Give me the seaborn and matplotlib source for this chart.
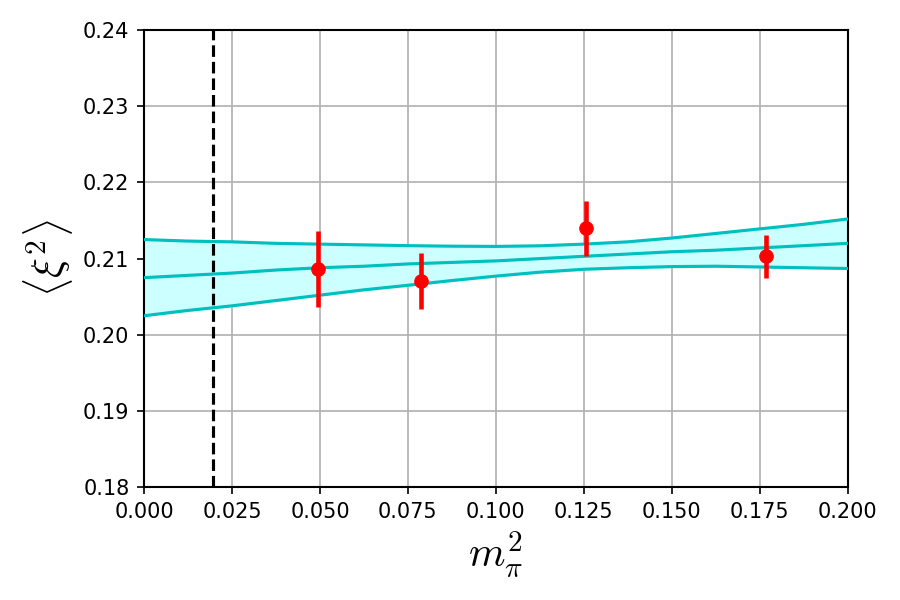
import matplotlib
matplotlib.use("Agg")
import matplotlib.pyplot as plt
import seaborn as sns
import numpy as np
import pandas as pd

# data points
mpi2 = [0.0494, 0.0787, 0.1257, 0.1767]
xi2 = [0.2086, 0.2071, 0.2140, 0.2103]
xi2_err = [0.0050, 0.0037, 0.0036, 0.0028]

# fit band
band_x = [0.0, 0.0125, 0.025, 0.0375, 0.05, 0.0625, 0.075, 0.0875, 0.1, 0.1125,
          0.125, 0.1375, 0.15, 0.1625, 0.175, 0.1875, 0.2]
band_upper = [0.2125, 0.2123, 0.2122, 0.2120, 0.2119, 0.2118, 0.2117, 0.21163, 0.2116, 0.21168,
              0.2119, 0.2122, 0.2127, 0.2133, 0.2139, 0.2145, 0.2152]
band_central = [0.2075, 0.2078, 0.2081, 0.2085, 0.2088, 0.2090, 0.2093, 0.2095, 0.2097, 0.2100,
                0.2103, 0.2106, 0.2109, 0.2111, 0.2114, 0.2117, 0.2120]
band_lower = [0.2025, 0.2032, 0.2038, 0.2045, 0.2052, 0.2059, 0.2065, 0.20712, 0.2077, 0.20822,
              0.2086, 0.2088, 0.20895, 0.2090, 0.2089, 0.2088, 0.2087]

phys_mpi2 = 0.0195

sns.set_style("ticks")
plt.rcParams['font.family'] = ['DejaVu Sans']
plt.rcParams['mathtext.fontset'] = 'cm'

fig = plt.figure(figsize=(6, 4), dpi=150)
ax = fig.add_axes([0.16, 0.188, 0.782, 0.762])

band = pd.DataFrame({"x": band_x, "upper": band_upper, "central": band_central, "lower": band_lower})
ax.fill_between(band["x"], band["lower"], band["upper"], color="#ccffff", zorder=2)
for col in ["upper", "central", "lower"]:
    sns.lineplot(data=band, x="x", y=col, ax=ax, color="c", linewidth=1.5, zorder=3)

ax.axvline(phys_mpi2, color="black", linestyle="--", linewidth=1.5, zorder=4)

ax.errorbar(mpi2, xi2, yerr=xi2_err, fmt="none", ecolor="red", elinewidth=2.2, zorder=5)
sns.scatterplot(x=mpi2, y=xi2, ax=ax, color="red", s=42, edgecolor="red", zorder=6)

ax.set_xlim(0.0, 0.2)
ax.set_ylim(0.18, 0.24)
ax.set_xticks(np.arange(0, 0.2001, 0.025))
ax.set_yticks(np.arange(0.18, 0.2401, 0.01))
ax.xaxis.set_major_formatter(matplotlib.ticker.FormatStrFormatter('%.3f'))
ax.yaxis.set_major_formatter(matplotlib.ticker.FormatStrFormatter('%.2f'))
ax.grid(True, color="#b0b0b0", linewidth=0.8, zorder=0)
ax.set_axisbelow(True)
for s in ax.spines.values():
    s.set_color("black")
    s.set_linewidth(1.0)
ax.tick_params(axis="both", labelsize=10, color="black", labelcolor="black",
               length=3.5, width=0.8, direction="out")
ax.set_xlabel(r"$m_\pi^2$", fontsize=20, color="black")
ax.set_ylabel(r"$\langle\xi^2\rangle$", fontsize=20, color="black")

fig.savefig("out.png", dpi=150)
